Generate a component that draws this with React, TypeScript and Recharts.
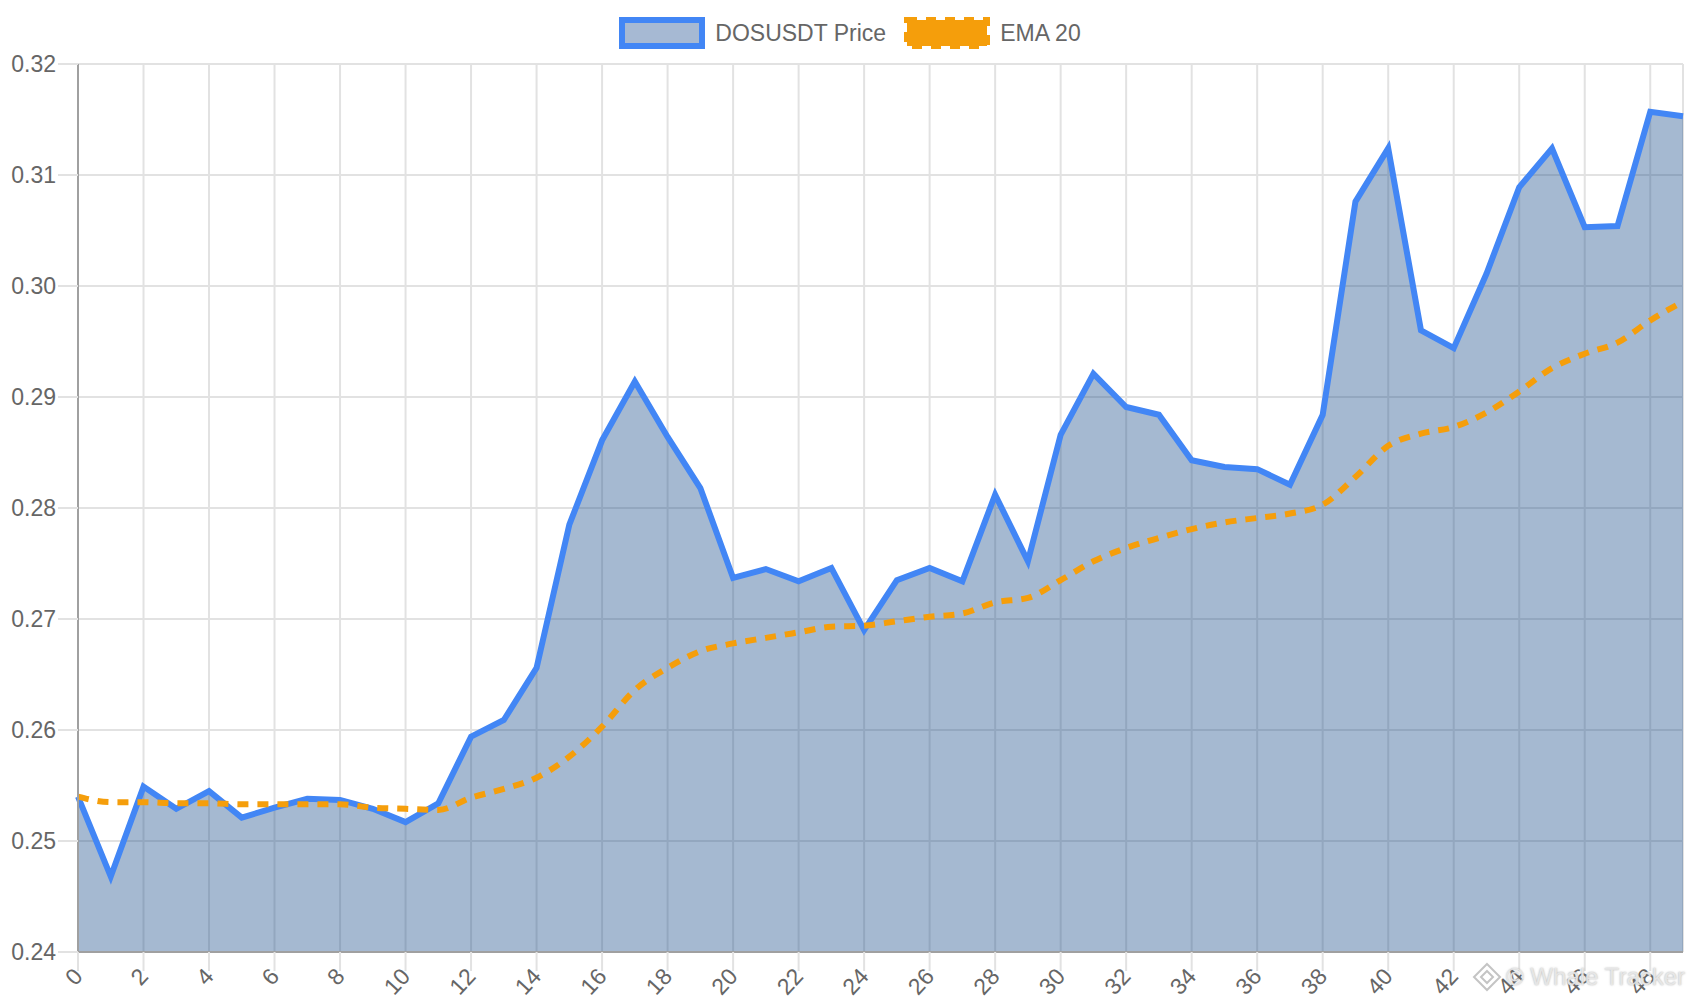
import { ComposedChart, Area, Line, XAxis, YAxis, CartesianGrid } from 'recharts'

// index along the x axis (one per candle)
const steps = [
  0, 1, 2, 3, 4, 5, 6, 7, 8, 9, 10, 11, 12, 13, 14, 15, 16, 17, 18, 19, 20, 21, 22, 23, 24,
  25, 26, 27, 28, 29, 30, 31, 32, 33, 34, 35, 36, 37, 38, 39, 40, 41, 42, 43, 44, 45, 46, 47, 48, 49
]

// DOSUSDT close price
const price = [
  0.2540, 0.2468, 0.2549, 0.2529, 0.2545, 0.2521, 0.2530, 0.2538, 0.2537, 0.2529,
  0.2517, 0.2534, 0.2594, 0.2609, 0.2656, 0.2785, 0.2861, 0.2914, 0.2864, 0.2818,
  0.2737, 0.2745, 0.2734, 0.2746, 0.2690, 0.2735, 0.2746, 0.2734, 0.2812, 0.2752,
  0.2866, 0.2921, 0.2891, 0.2884, 0.2843, 0.2837, 0.2835, 0.2821, 0.2884, 0.3076,
  0.3124, 0.2960, 0.2944, 0.3011, 0.3089, 0.3124, 0.3053, 0.3054, 0.3157, 0.3153
]

// EMA 20
const ema20 = [
  0.2540, 0.2535, 0.2535, 0.2534, 0.2534, 0.2533, 0.2533, 0.2533, 0.2533, 0.2530,
  0.2529, 0.2528, 0.2539, 0.2547, 0.2557, 0.2576, 0.2603, 0.2636, 0.2656, 0.2671,
  0.2678, 0.2683, 0.2688, 0.2693, 0.2694, 0.2698, 0.2702, 0.2705, 0.2715, 0.2719,
  0.2735, 0.2752, 0.2764, 0.2773, 0.2781, 0.2787, 0.2791, 0.2795, 0.2803, 0.2828,
  0.2856, 0.2867, 0.2873, 0.2886, 0.2905, 0.2926, 0.2939, 0.2949, 0.2969, 0.2986
]

const xTicks = [0, 2, 4, 6, 8, 10, 12, 14, 16, 18, 20, 22, 24, 26, 28, 30, 32, 34, 36, 38, 40, 42, 44, 46, 48]
const yTicks = [0.24, 0.25, 0.26, 0.27, 0.28, 0.29, 0.30, 0.31, 0.32]

const data = steps.map((s, i) => ({ idx: s, price: price[i], ema: ema20[i] }))

const FONT = '"Liberation Sans", Arial, sans-serif'
const BLUE = '#4286f5'
const ORANGE = '#f59e0b'

const XTick = (props: any) => {
  const { x, y, payload } = props
  return (
    <text
      x={x}
      y={y}
      transform={`rotate(-47 ${x} ${y})`}
      textAnchor='end'
      dy='0.35em'
      fill='#666'
      fontSize={23}
      fontFamily={FONT}
    >
      {payload.value}
    </text>
  )
}

const LegendRow = () => (
  <div style={{ position: 'absolute', top: 17, left: 0, width: 1700, display: 'flex', justifyContent: 'center', alignItems: 'center', fontFamily: FONT, fontSize: 23, color: '#666' }}>
    <div style={{ width: 86, height: 32, boxSizing: 'border-box', border: `6px solid ${BLUE}`, background: '#a6b9d3' }} />
    <span style={{ marginLeft: 10, marginRight: 18 }}>DOSUSDT Price</span>
    <svg width={86} height={32}>
      <rect x={3} y={3} width={80} height={26} fill={ORANGE} stroke={ORANGE} strokeWidth={6} strokeDasharray='10 9' />
    </svg>
    <span style={{ marginLeft: 10 }}>EMA 20</span>
  </div>
)

const App = () => (
  <div style={{ position: 'absolute', left: 0, top: 0, width: 1700, height: 1000, background: '#fff', overflow: 'hidden' }}>
    <LegendRow />
    <ComposedChart width={1700} height={1000} data={data} margin={{ top: 64, right: 17, left: 0, bottom: 0 }}>
      <CartesianGrid stroke='#e2e2e2' strokeWidth={2} />
      <XAxis
        dataKey='idx'
        type='number'
        domain={[0, 49]}
        ticks={xTicks}
        interval={0}
        height={48}
        tickSize={19}
        tickMargin={1}
        tickLine={{ stroke: '#e2e2e2', strokeWidth: 2 }}
        axisLine={{ stroke: '#a0a0a0', strokeWidth: 2 }}
        tick={<XTick />}
      />
      <YAxis
        type='number'
        domain={[0.24, 0.32]}
        ticks={yTicks}
        interval={0}
        width={78}
        tickSize={20}
        tickMargin={2}
        tickLine={{ stroke: '#e2e2e2', strokeWidth: 2 }}
        axisLine={{ stroke: '#a0a0a0', strokeWidth: 2 }}
        tickFormatter={(v: number) => v.toFixed(2)}
        tick={{ fill: '#666', fontSize: 23, fontFamily: FONT }}
      />
      <Area
        type='linear'
        dataKey='price'
        stroke={BLUE}
        strokeWidth={6}
        strokeLinejoin='miter'
        fill='rgb(30, 80, 140)'
        fillOpacity={0.4}
        dot={false}
        activeDot={false}
        isAnimationActive={false}
      />
      <Line
        type='monotone'
        dataKey='ema'
        stroke={ORANGE}
        strokeWidth={6}
        strokeDasharray='11 9'
        dot={false}
        activeDot={false}
        isAnimationActive={false}
      />
    </ComposedChart>
    <div style={{ position: 'absolute', left: 1472, top: 962, fontFamily: FONT, fontSize: 24, color: 'rgba(235,235,235,0.9)', textShadow: '0 0 2px rgba(150,150,150,0.8)', display: 'flex', alignItems: 'center' }}>
      <svg width={30} height={30} style={{ marginRight: 4 }}>
        <path d='M15 2 L28 15 L15 28 L2 15 Z M15 9 L21 15 L15 21 L9 15 Z' fill='none' stroke='rgba(190,190,190,0.9)' strokeWidth={2} />
      </svg>
      <span>© Whale Tracker</span>
    </div>
  </div>
)

export default App
